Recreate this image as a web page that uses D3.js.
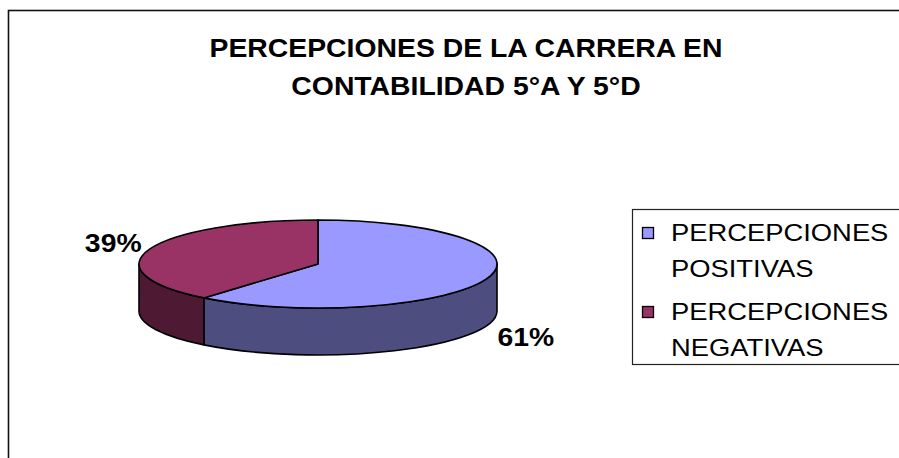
<!DOCTYPE html>
<html>
<head>
<meta charset="utf-8">
<script src="https://cdn.jsdelivr.net/npm/d3@7"></script>
<style>
  html, body { margin: 0; padding: 0; background: #fff; }
  svg { display: block; }
  text { font-family: "Liberation Sans", Arial, Helvetica, sans-serif; }
</style>
</head>
<body>
<svg id="chart" width="899" height="458"></svg>
<script>
// ---- data ----
const titleLines = ["PERCEPCIONES DE LA CARRERA EN", "CONTABILIDAD 5°A Y 5°D"];
const categories = ["PERCEPCIONES POSITIVAS", "PERCEPCIONES NEGATIVAS"];
const legendLines = [["PERCEPCIONES", "POSITIVAS"], ["PERCEPCIONES", "NEGATIVAS"]];
const values = [61, 39];
const topColors = ["#9999FF", "#993366"];
const sideColors = ["#4D4D80", "#4D1933"];

// ---- layout ----
const cx = 318, cy = 264, rx = 179, ry = 44, depth = 47;

const svg = d3.select("#chart");

// chart border (extends beyond right/bottom edges)
svg.append("rect")
  .attr("x", 8.5).attr("y", 10.5)
  .attr("width", 1200).attr("height", 1200)
  .attr("fill", "#fff").attr("stroke", "#111").attr("stroke-width", 1.6);

// place text at (x,y) with horizontal glyph stretch k
function placeText(sel, fx, fy, k) {
  sel.attr("x", 0).attr("y", 0)
    .attr("transform", (d, i) => `translate(${fx(d, i)},${fy(d, i)}) scale(${k},1)`);
}

// title
svg.append("g").selectAll("text").data(titleLines).join("text")
  .attr("text-anchor", "middle")
  .attr("font-size", 26.5).attr("font-weight", "bold").attr("fill", "#000")
  .text(d => d)
  .call(placeText, () => 466, (d, i) => 57 + i * 38, 1.07);

// pie
const pie = d3.pie().sort(null).startAngle(0).endAngle(2 * Math.PI);
const arcs = pie(values);
const total = d3.sum(values);

const px = a => cx + rx * Math.sin(a);
const py = a => cy - ry * Math.cos(a);

function topPath(d) {
  const p = d3.path();
  p.moveTo(cx, cy);
  p.lineTo(px(d.startAngle), py(d.startAngle));
  const large = (d.endAngle - d.startAngle) > Math.PI ? 1 : 0;
  return p.toString() + `A${rx},${ry} 0 ${large} 1 ${px(d.endAngle)},${py(d.endAngle)}Z`;
}

function sidePath(d) {
  const b0 = Math.max(d.startAngle, Math.PI / 2);
  const b1 = Math.min(d.endAngle, 3 * Math.PI / 2);
  if (b1 <= b0) return null;
  return `M${px(b0)},${py(b0)}` +
    `A${rx},${ry} 0 0 1 ${px(b1)},${py(b1)}` +
    `L${px(b1)},${py(b1) + depth}` +
    `A${rx},${ry} 0 0 0 ${px(b0)},${py(b0) + depth}Z`;
}

const pieG = svg.append("g");
pieG.selectAll("path.side").data(arcs.filter(d => sidePath(d))).join("path")
  .attr("class", "side")
  .attr("d", sidePath)
  .attr("fill", d => sideColors[d.index])
  .attr("stroke", "#000").attr("stroke-width", 1.6).attr("stroke-linejoin", "round");

pieG.selectAll("path.top").data(arcs).join("path")
  .attr("class", "top")
  .attr("d", topPath)
  .attr("fill", d => topColors[d.index])
  .attr("stroke", "#000").attr("stroke-width", 1.6).attr("stroke-linejoin", "round");

// percentage labels
const fmt = d3.format(".0%");
const mid = d => (d.startAngle + d.endAngle) / 2;
const isRight = d => Math.sin(mid(d)) > 0;
const isFront = d => Math.cos(mid(d)) < 0;
pieG.selectAll("text.lbl").data(arcs).join("text")
  .attr("class", "lbl")
  .attr("text-anchor", d => isRight(d) ? "start" : "end")
  .attr("font-size", 26).attr("font-weight", "bold").attr("fill", "#000")
  .text(d => fmt(d.data / total))
  .call(placeText,
    d => isRight(d) ? px(mid(d)) + 11 : px(mid(d)) - 8,
    d => isFront(d) ? py(mid(d)) + depth + 20 : py(mid(d)) + 3,
    1.09);

// legend
const lg = svg.append("g");
lg.append("rect")
  .attr("x", 632.5).attr("y", 209.5).attr("width", 400).attr("height", 155)
  .attr("fill", "#fff").attr("stroke", "#222").attr("stroke-width", 1.2);

const item = lg.selectAll("g.item").data(categories).join("g")
  .attr("class", "item")
  .attr("transform", (d, i) => `translate(0, ${i * 79})`);

item.append("rect")
  .attr("x", 642.5).attr("y", 227.5).attr("width", 11).attr("height", 11)
  .attr("fill", (d, i) => topColors[i]).attr("stroke", "#000").attr("stroke-width", 1.3);

item.each(function (d, i) {
  d3.select(this).selectAll("text").data(legendLines[i]).join("text")
    .attr("font-size", 23).attr("fill", "#000")
    .text(t => t)
    .call(placeText, () => 671, (t, j) => 241 + j * 36, 1.19);
});
</script>
</body>
</html>
